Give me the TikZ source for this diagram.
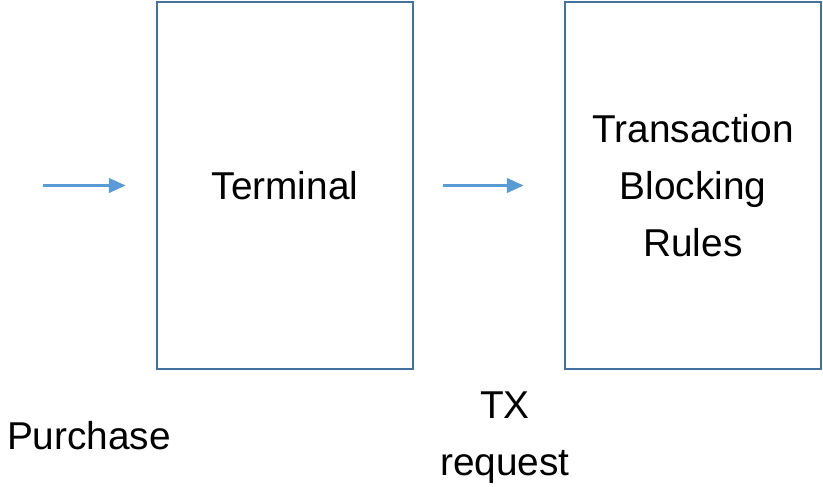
\documentclass[tikz,border=0pt]{standalone}
\usepackage{fontspec}
\setmainfont{Liberation Sans}
\usetikzlibrary{arrows.meta}
\definecolor{boxblue}{HTML}{41719C}
\definecolor{flowblue}{HTML}{5B9BD5}
\tikzset{
    stagebox/.style = {draw=boxblue, line width=1.8pt, minimum width=6.4cm, minimum height=9.175cm, align=center, font=\fontsize{27.6}{40.5}\selectfont},
    flow/.style = {draw=flowblue, line width=2pt, -{Triangle[length=0.42cm,width=0.36cm]}},
    tag/.style = {align=center, font=\fontsize{27.6}{40.5}\selectfont}
}
\begin{document}
\begin{tikzpicture}[x=0.025cm, y=-0.025cm]
    \useasboundingbox (0,0) rectangle (823,487);
    \node [stagebox] (term) at (285,185.5) {Terminal};
    \node [stagebox] (rules) at (693,185.5) {Transaction\\Blocking\\Rules};
    \coordinate (buyer) at (43,185.5);
    \draw [flow, shorten >=0.75cm] (buyer) -- (term.west);
    \draw [flow, shorten <=0.725cm, shorten >=1cm] (term.east) -- (rules.west);
    \node [tag] (purchase) at (89,436) {Purchase};
    \node [tag] (txreq) at (505,438) {TX\\request};
\end{tikzpicture}
\end{document}
